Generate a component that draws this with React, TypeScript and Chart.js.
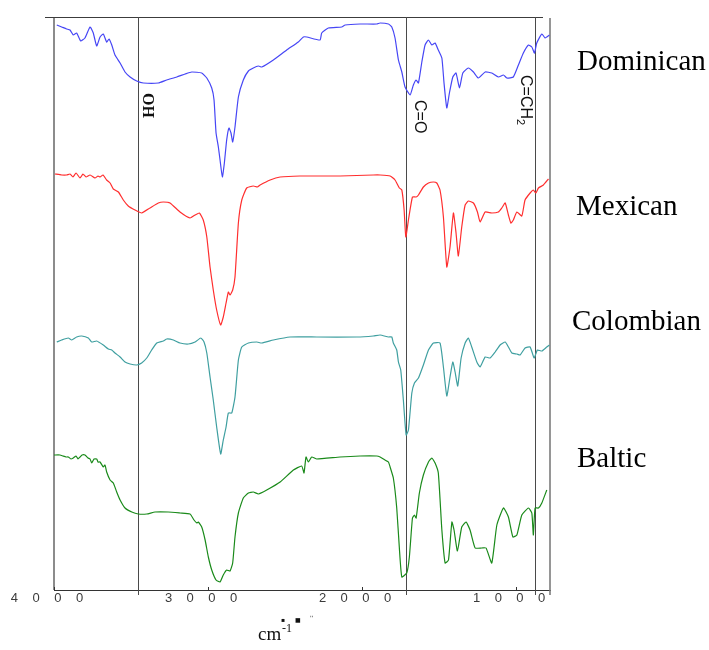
import { useEffect, useRef } from 'react';
import { Chart, registerables } from 'chart.js';

Chart.register(...registerables);

// ---- axis / annotation data ----
const xTicks = [4000, 3000, 2000, 1000];
const xTickLabels = ['4 0 0 0', '3 0 0 0', '2 0 0 0', '1 0 0 0'];
const xMin = 780;
const xMax = 4000;
const yMax = 573;

const markerWave = [3455, 1714, 877];
const markerLabels = ['OH', 'C=O', 'C=CH'];
const markerSubs = ['', '', '2'];

const seriesNames = ['Dominican', 'Mexican', 'Colombian', 'Baltic'];
const seriesColors = ['#4646f5', '#ff2e2e', '#3f9fa0', '#1a8a1a'];
const seriesLabelLevel = [520, 375, 260, 123];

// ---- spectra (wavenumber cm-1, offset transmittance) ----
const dominican: [number, number][] = [
  [3982, 565], [3950, 563], [3918, 561], [3896, 560], [3875, 555], [3853, 557], [3827, 549], [3799, 552],
  [3766, 563], [3745, 557], [3723, 544], [3701, 553], [3680, 556], [3658, 548], [3643, 551], [3625, 545],
  [3604, 535], [3571, 527], [3539, 518], [3506, 513], [3463, 509], [3420, 507], [3323, 507], [3268, 510],
  [3203, 513], [3149, 516], [3106, 518], [3041, 517], [3008, 512], [2976, 502], [2961, 490], [2948, 457],
  [2933, 443], [2922, 430], [2907, 413], [2894, 427], [2879, 450], [2864, 462], [2851, 457], [2840, 448],
  [2825, 463], [2803, 493], [2771, 510], [2738, 519], [2706, 522], [2673, 524], [2651, 523], [2576, 530],
  [2489, 540], [2414, 548], [2381, 553], [2359, 553], [2273, 550], [2262, 557], [2219, 562], [2132, 563],
  [2110, 565], [2013, 566], [1905, 566], [1883, 567], [1829, 566], [1807, 563], [1786, 552], [1764, 530],
  [1742, 518], [1721, 503], [1688, 495], [1667, 505], [1649, 510], [1634, 507], [1612, 528], [1591, 545],
  [1569, 550], [1547, 545], [1526, 547], [1505, 540], [1482, 532], [1468, 507], [1450, 482], [1433, 497],
  [1411, 513], [1390, 517], [1368, 502], [1346, 517], [1310, 522], [1277, 518], [1245, 512], [1201, 518],
  [1158, 517], [1115, 513], [1082, 515], [1060, 512], [1018, 513], [985, 525], [953, 537], [920, 545],
  [898, 543], [881, 537], [866, 547], [833, 556], [812, 552], [801, 553], [784, 555],
];

const mexican: [number, number][] = [
  [3994, 416], [3950, 415], [3918, 415], [3896, 416], [3877, 413], [3857, 417], [3831, 412], [3812, 416],
  [3792, 413], [3766, 415], [3734, 412], [3714, 414], [3701, 413], [3682, 415], [3658, 410], [3636, 407],
  [3615, 401], [3582, 398], [3550, 390], [3518, 384], [3474, 380], [3431, 377], [3377, 382], [3323, 387],
  [3290, 388], [3247, 387], [3182, 378], [3117, 372], [3084, 375], [3056, 377], [3031, 370], [3008, 353],
  [2987, 323], [2966, 300], [2944, 280], [2918, 265], [2901, 273], [2883, 287], [2868, 298], [2857, 295],
  [2840, 300], [2825, 313], [2803, 367], [2781, 390], [2749, 402], [2706, 404], [2680, 403], [2662, 405],
  [2597, 410], [2532, 413], [2403, 414], [2143, 414], [1927, 415], [1883, 415], [1818, 414], [1786, 410],
  [1758, 402], [1742, 400], [1727, 380], [1716, 353], [1699, 370], [1673, 393], [1649, 393], [1634, 395],
  [1602, 403], [1569, 407], [1537, 408], [1515, 407], [1494, 400], [1472, 373], [1450, 323], [1429, 343],
  [1407, 377], [1390, 357], [1375, 334], [1353, 363], [1331, 385], [1310, 389], [1277, 387], [1251, 378],
  [1234, 368], [1201, 378], [1158, 377], [1115, 378], [1093, 382], [1071, 387], [1050, 375], [1034, 367],
  [1018, 370], [995, 378], [963, 374], [942, 390], [909, 397], [888, 400], [872, 397], [855, 402],
  [823, 405], [790, 411],
];

const colombian: [number, number][] = [
  [3982, 248], [3950, 250], [3907, 252], [3885, 250], [3853, 253], [3820, 254], [3777, 252], [3755, 248],
  [3723, 249], [3680, 245], [3647, 241], [3625, 240], [3604, 237], [3571, 233], [3539, 228], [3506, 226],
  [3463, 225], [3431, 227], [3398, 232], [3366, 240], [3333, 247], [3290, 249], [3268, 251], [3225, 250],
  [3182, 247], [3128, 246], [3084, 248], [3047, 252], [3026, 248], [3008, 237], [2987, 213], [2966, 190],
  [2944, 163], [2918, 136], [2901, 150], [2883, 163], [2868, 177], [2846, 177], [2825, 193], [2803, 230],
  [2781, 243], [2738, 247], [2684, 248], [2651, 247], [2576, 250], [2468, 253], [2294, 253], [2034, 253],
  [1927, 254], [1883, 255], [1829, 253], [1807, 253], [1797, 247], [1775, 240], [1764, 228], [1749, 220],
  [1732, 190], [1714, 155], [1699, 160], [1677, 197], [1660, 207], [1634, 212], [1602, 225], [1569, 240],
  [1537, 247], [1494, 247], [1472, 223], [1450, 194], [1429, 213], [1411, 228], [1396, 218], [1379, 204],
  [1357, 232], [1331, 247], [1310, 252], [1288, 243], [1255, 228], [1234, 223], [1201, 233], [1169, 232],
  [1136, 238], [1104, 245], [1071, 248], [1050, 243], [1028, 237], [995, 236], [974, 235], [942, 242],
  [909, 243], [883, 232], [862, 240], [833, 239], [801, 243], [784, 245],
];

const baltic: [number, number][] = [
  [4000, 135], [3961, 135], [3942, 134], [3922, 133], [3907, 133], [3890, 131], [3875, 132], [3857, 134],
  [3844, 131], [3831, 133], [3818, 135], [3799, 135], [3779, 132], [3766, 131], [3755, 127], [3740, 131],
  [3723, 131], [3714, 128], [3701, 128], [3680, 123], [3669, 125], [3658, 118], [3636, 110], [3615, 107],
  [3593, 98], [3571, 90], [3539, 82], [3495, 78], [3453, 76], [3398, 76], [3344, 78], [3258, 78],
  [3182, 77], [3117, 76], [3091, 70], [3073, 67], [3063, 68], [3041, 63], [3019, 50], [2998, 33],
  [2976, 20], [2948, 10], [2922, 8], [2901, 15], [2879, 20], [2857, 19], [2840, 27], [2825, 53],
  [2803, 77], [2771, 92], [2738, 97], [2706, 98], [2673, 96], [2619, 100], [2532, 108], [2446, 120],
  [2392, 124], [2377, 117], [2364, 133], [2349, 128], [2327, 133], [2294, 131], [2143, 133], [2013, 134],
  [1905, 134], [1883, 133], [1851, 130], [1829, 128], [1818, 123], [1797, 112], [1775, 82], [1758, 42],
  [1742, 13], [1710, 17], [1693, 33], [1673, 72], [1660, 75], [1649, 72], [1628, 97], [1602, 115],
  [1569, 128], [1547, 132], [1526, 127], [1505, 117], [1482, 60], [1461, 27], [1439, 30], [1417, 68],
  [1403, 60], [1381, 39], [1353, 63], [1325, 68], [1299, 60], [1266, 42], [1222, 42], [1195, 42],
  [1158, 27], [1125, 65], [1082, 82], [1050, 73], [1021, 53], [995, 55], [963, 75], [920, 82],
  [898, 77], [888, 55], [877, 82], [855, 82], [833, 87], [801, 100],
];

const allSeries = [dominican, mexican, colombian, baltic];

function strokeLine(ctx: CanvasRenderingContext2D, x1: number, y1: number, x2: number, y2: number) {
  ctx.beginPath();
  ctx.moveTo(x1, y1);
  ctx.lineTo(x2, y2);
  ctx.stroke();
}

const overlayPlugin = {
  id: 'irOverlay',
  beforeDatasetsDraw(chart: any) {
    const { ctx, chartArea: ca, scales } = chart;
    const x = scales.x;
    ctx.save();
    // left frame (grey)
    ctx.strokeStyle = '#8c8c8c';
    ctx.lineWidth = 2;
    strokeLine(ctx, ca.left, ca.top, ca.left, ca.bottom);
    // right frame (grey)
    ctx.strokeStyle = '#7c7c7c';
    ctx.lineWidth = 1.6;
    strokeLine(ctx, ca.right, ca.top + 1, ca.right, ca.bottom + 5);
    // top line
    ctx.strokeStyle = '#3c3c3c';
    ctx.lineWidth = 1;
    strokeLine(ctx, ca.left - 9, ca.top + 0.5, ca.right - 7, ca.top + 0.5);
    // marker lines
    ctx.strokeStyle = '#4a4a4a';
    ctx.lineWidth = 1;
    markerWave.forEach((w) => {
      const px = Math.round(x.getPixelForValue(w)) + 0.5;
      strokeLine(ctx, px, ca.top, px, ca.bottom + 5);
    });
    // inward tick marks
    ctx.strokeStyle = '#333';
    xTicks.forEach((w) => {
      const px = Math.round(x.getPixelForValue(w)) + 0.5;
      strokeLine(ctx, px, ca.bottom, px, ca.bottom - 3);
    });
    ctx.restore();
  },
  afterDraw(chart: any) {
    const { ctx, chartArea: ca, scales } = chart;
    const x = scales.x;
    const y = scales.y;
    ctx.save();
    ctx.fillStyle = '#111';
    // marker annotations (rotated clockwise)
    const annot = [
      { font: 'bold 16px "Liberation Serif"', dx: 5, top: 93 },
      { font: '16px "Liberation Sans"', dx: 9, top: 100 },
      { font: '16px "Liberation Sans"', dx: -14, top: 75 },
    ];
    markerWave.forEach((w, i) => {
      const px = x.getPixelForValue(w);
      const a = annot[i];
      ctx.save();
      ctx.translate(px + a.dx, a.top);
      ctx.rotate(Math.PI / 2);
      ctx.font = a.font;
      ctx.textAlign = 'left';
      ctx.textBaseline = 'alphabetic';
      ctx.fillText(markerLabels[i], 0, 0);
      if (markerSubs[i]) {
        const wdt = ctx.measureText(markerLabels[i]).width;
        ctx.font = '11px "Liberation Sans"';
        ctx.fillText(markerSubs[i], wdt, 4);
      }
      ctx.restore();
    });
    // series names
    const nameDx = [27, 26, 22, 27];
    ctx.font = '29px "Liberation Serif"';
    ctx.textAlign = 'left';
    ctx.textBaseline = 'alphabetic';
    ctx.fillStyle = '#000';
    seriesNames.forEach((n, i) => {
      ctx.fillText(n, ca.right + nameDx[i], y.getPixelForValue(seriesLabelLevel[i]));
    });
    // axis unit
    ctx.fillStyle = '#111';
    ctx.font = '19px "Liberation Serif"';
    ctx.fillText('cm', ca.left + 204, ca.bottom + 50);
    ctx.font = '12px "Liberation Serif"';
    ctx.fillText('-1', ca.left + 228, ca.bottom + 42);
    // small garbled glyph marks above the unit
    ctx.font = '6px "DejaVu Sans"';
    ctx.textBaseline = 'middle';
    ctx.fillText('\u25AA', ca.left + 227, ca.bottom + 30);
    ctx.fillText('\u25A0', ca.left + 241, ca.bottom + 30);
    ctx.font = '6px "DejaVu Sans"';
    ctx.fillText("''", ca.left + 256, ca.bottom + 28);
    ctx.restore();
  },
};

export default function App() {
  const canvasRef = useRef<HTMLCanvasElement | null>(null);

  useEffect(() => {
    if (!canvasRef.current) return;
    const chart = new Chart(canvasRef.current, {
      type: 'line',
      data: {
        datasets: allSeries.map((s, i) => ({
          label: seriesNames[i],
          data: s.map(([w, v]) => ({ x: w, y: v })),
          borderColor: seriesColors[i],
          borderWidth: 1.2,
          pointRadius: 0,
          tension: 0.15,
          fill: false,
        })),
      },
      options: {
        responsive: false,
        animation: false,
        events: [],
        layout: { padding: { left: 54, top: 17, right: 159, bottom: 40 } },
        plugins: {
          legend: { display: false },
          tooltip: { enabled: false },
          title: { display: false },
        },
        scales: {
          x: {
            type: 'linear',
            reverse: true,
            min: xMin,
            max: xMax,
            afterBuildTicks: (scale: any) => {
              scale.ticks = xTicks.map((v) => ({ value: v }));
            },
            afterFit: (scale: any) => {
              scale.height = 20;
            },
            grid: { display: false, drawTicks: false },
            border: { display: true, color: '#333', width: 1 },
            ticks: {
              autoSkip: false,
              maxRotation: 0,
              minRotation: 0,
              padding: 1,
              labelOffset: -7,
              color: '#3a3a3a',
              font: { family: '"Liberation Sans"', size: 13 },
              callback: (value: any) => {
                const i = xTicks.indexOf(Number(value));
                return i >= 0 ? xTickLabels[i].split(' ').join('    ') : '';
              },
            },
          },
          y: {
            type: 'linear',
            display: false,
            min: 0,
            max: yMax,
          },
        },
      },
      plugins: [overlayPlugin],
    });
    return () => chart.destroy();
  }, []);

  return (
    <div style={{ position: 'absolute', left: 0, top: 0, width: 709, height: 650, background: '#fff' }}>
      <canvas ref={canvasRef} width={709} height={650} style={{ display: 'block' }} />
    </div>
  );
}
